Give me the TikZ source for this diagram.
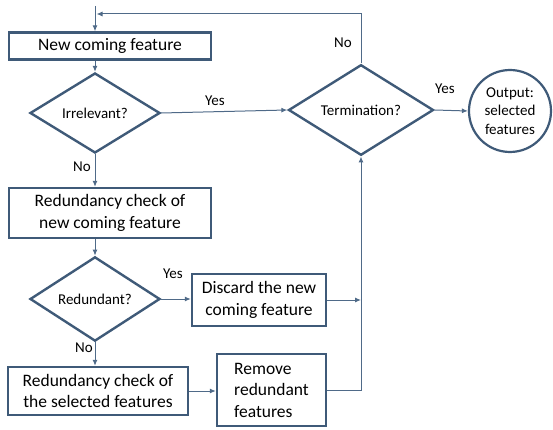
\documentclass[tikz,border=0pt]{standalone}
\usepackage{fontspec}
\setmainfont{Carlito}
\usepackage{tikz}
\usetikzlibrary{calc, arrows.meta, shapes.geometric}

\definecolor{frame}{HTML}{3F5A78}
\definecolor{wire}{HTML}{4F6A88}

\tikzset{
    stepbox/.style={rectangle, draw=frame, line width=2.4pt, inner sep=0pt, align=center, font=\fontsize{17.5}{21.5}\selectfont},
    askbox/.style={diamond, draw=frame, line width=2.4pt, inner sep=0pt, font=\fontsize{15}{18}\selectfont},
    outbox/.style={circle, draw=frame, line width=2.2pt, inner sep=0pt, minimum size=82pt, align=center, font=\fontsize{15}{18.5}\selectfont},
    wire/.style={draw=wire, line width=1pt},
    flow/.style={wire, -{Latex[length=6pt, width=5pt]}},
    tag/.style={inner sep=0pt, font=\fontsize{15}{18}\selectfont}
}

\begin{document}
\begin{tikzpicture}[x=1pt, y=-1pt]
        \useasboundingbox (0,0) rectangle (553,430);

        %% Boxes
        \node (newfeat) [stepbox, minimum width=202pt, minimum height=27pt] at (110,46) {New coming feature};
        \node (checknew) [stepbox, minimum width=202pt, minimum height=50pt] at (110,213) {Redundancy check of\\new coming feature};
        \node (checksel) [stepbox, minimum width=180pt, minimum height=48pt] at (98,391) {Redundancy check of\\the selected features};
        \node (discard) [stepbox, minimum width=134pt, minimum height=52pt] at (259,300) {Discard the new\\coming feature};
        \node (remove) [stepbox, minimum width=109pt, minimum height=72pt, align=left] at (271.5,390) {Remove\\redundant\\features};

        %% Decisions
        \node (irrel) [askbox, minimum width=130pt, minimum height=80pt] at (95,113) {Irrelevant?};
        \node (redund) [askbox, minimum width=130pt, minimum height=78pt] at (95,299) {Redundant?};
        \node (stop) [askbox, minimum width=145pt, minimum height=72pt] at (361,110) {Termination?};

        %% Output
        \node (result) [outbox] at (510,111) {Output:\\selected\\features};

        %% Joints
        \coordinate (start) at (95,6);
        \coordinate (loopin) at (95,14);
        \coordinate (loopup) at (361,14);
        \coordinate (merge) at (361,300);
        \coordinate (corner) at (361,390);

        %% Labels
        \node (yesirrel) [tag] at (215,101) {Yes};
        \node (noirrel) [tag] at (82,167) {No};
        \node (yesredund) [tag] at (173,274) {Yes};
        \node (noredund) [tag] at (84,348) {No};
        \node (yesstop) [tag] at (445,89) {Yes};
        \node (nostop) [tag] at (343,43) {No};

        %% Arrows
        \draw [flow] (start) -- (start |- newfeat.north);
        \draw [flow] (irrel.north |- newfeat.south) -- (irrel.north);
        \draw [flow] (irrel.south) -- (irrel.south |- checknew.north);
        \draw [flow] (irrel.east) -- (stop.west);
        \draw [flow] (redund.north |- checknew.south) -- (redund.north);
        \draw [flow] (redund.east) -- (redund.east -| discard.west);
        \draw [flow] (redund.south) -- (redund.south |- checksel.north);
        \draw [flow] (checksel.east) -- (checksel.east -| remove.west);
        \draw [flow] (discard.east) -- (merge);
        \draw [flow] (remove.east) -- (corner) -- (stop.south);
        \draw [flow] (stop.north) -- (loopup) -- ($(loopin) + (1.5,0)$);
        \draw [flow] (stop.east) -- (result.west);

    \end{tikzpicture}
\end{document}
